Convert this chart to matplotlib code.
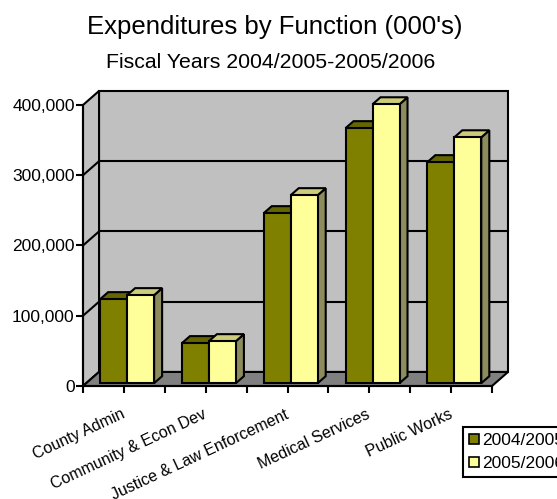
import numpy as np
import matplotlib
matplotlib.use("Agg")
import matplotlib.pyplot as plt
from matplotlib.patches import Polygon, Patch
from matplotlib.ticker import FuncFormatter
from matplotlib.transforms import ScaledTranslation

plt.rcParams['font.family'] = ['Liberation Sans', 'DejaVu Sans']

# Data (thousands of dollars)
categories = ['County Admin', 'Community & Econ Dev', 'Justice & Law Enforcement',
              'Medical Services', 'Public Works']
fy_2004_2005 = [119600, 57000, 242000, 363000, 314600]
fy_2005_2006 = [125300, 59800, 267600, 397000, 350000]
series_names = ['2004/2005', '2005/2006']

# colours: front, top, side
olive = ('#808000', '#666600', '#5c5c00')
yellow = ('#FFFF99', '#CCCC7A', '#8c8c5c')

fig = plt.figure(figsize=(5.57, 4.99), dpi=100)
ax = fig.add_axes([83 / 557, 113 / 499, 409 / 557, 281 / 499])
ax.set_xlim(0, 5)
ax.set_ylim(0, 400000)
ax.patch.set_visible(False)

# depth of the 3D box in data units
dx = 0.196
dy = 20000
ymax = 400000
n = len(categories)
lw = 1.5

def poly(pts, fc, z):
    ax.add_patch(Polygon(pts, closed=True, facecolor=fc, edgecolor='black',
                         linewidth=lw, clip_on=False, zorder=z, joinstyle='miter'))

# walls and floor
poly([(dx, dy), (n + dx, dy), (n + dx, ymax + dy), (dx, ymax + dy)], '#C0C0C0', 1)
poly([(0, 0), (0, ymax), (dx, ymax + dy), (dx, dy)], '#C0C0C0', 1)
poly([(0, 0), (n, 0), (n + dx, dy), (dx, dy)], '#808080', 1)

# gridlines on back and side walls
for v in [100000, 200000, 300000]:
    ax.plot([dx, n + dx], [v + dy, v + dy], color='black', lw=lw, zorder=2, clip_on=False)
    ax.plot([0, dx], [v, v + dy], color='black', lw=lw, zorder=2, clip_on=False)

# bars
w = 0.33
sx, sy = 0.2 * dx, 0.2 * dy       # front face depth
bx, by = 0.5 * dx, 0.5 * dy       # bar depth
z = 3
for i in range(n):
    c = i + 0.5
    for j, (vals, cols) in enumerate([(fy_2004_2005, olive), (fy_2005_2006, yellow)]):
        v = vals[i]
        x0 = c - w + j * w + sx
        x1 = x0 + w
        poly([(x1, sy), (x1 + bx, sy + by), (x1 + bx, sy + by + v), (x1, sy + v)], cols[2], z)
        poly([(x0, sy + v), (x1, sy + v), (x1 + bx, sy + v + by), (x0 + bx, sy + v + by)], cols[1], z)
        ax.bar(x0, v, width=w, bottom=sy, align='edge', color=cols[0],
               edgecolor='black', linewidth=lw, zorder=z, clip_on=False)
        z += 1

# axes styling
for s in ['top', 'right']:
    ax.spines[s].set_visible(False)
for s in ['left', 'bottom']:
    ax.spines[s].set_linewidth(lw)
    ax.spines[s].set_zorder(20)

ax.set_yticks(np.arange(0, 400001, 100000))
ax.yaxis.set_major_formatter(FuncFormatter(lambda v, p: f'{int(v):,}'))
ax.tick_params(axis='y', direction='out', length=5, width=lw, labelsize=12.5, pad=1)

ax.set_xticks(np.arange(n) + 0.5)
ax.set_xticklabels(categories, rotation=25, ha='right', rotation_mode='anchor')
ax.set_xticks(np.arange(0, n + 0.01, 1), minor=True)
ax.tick_params(axis='x', which='both', direction='out', length=5, width=lw,
               labelsize=11.5, pad=10)
shift = ScaledTranslation(-3 / 100, 0, fig.dpi_scale_trans)
for lab in ax.get_xticklabels():
    lab.set_transform(lab.get_transform() + shift)

# titles
fig.text(275 / 557, 1 - 27 / 499, "Expenditures by Function (000's)",
         ha='center', va='center', fontsize=18.5)
fig.text(271 / 557, 1 - 62 / 499, 'Fiscal Years 2004/2005-2005/2006',
         ha='center', va='center', fontsize=15.3)

handles = [Patch(facecolor=olive[0], edgecolor='black', linewidth=1.2),
           Patch(facecolor=yellow[0], edgecolor='black', linewidth=1.2)]
leg = fig.legend(handles, series_names, loc='upper left',
                 bbox_to_anchor=(463 / 557, 1 - 427 / 499), bbox_transform=fig.transFigure,
                 fontsize=12.5, handlelength=0.55, handleheight=0.55, handletextpad=0.2,
                 labelspacing=0.45, borderpad=0.35, borderaxespad=0,
                 fancybox=False, framealpha=1, edgecolor='black')
leg.get_frame().set_linewidth(lw)

fig.savefig('out.png', dpi=100)
